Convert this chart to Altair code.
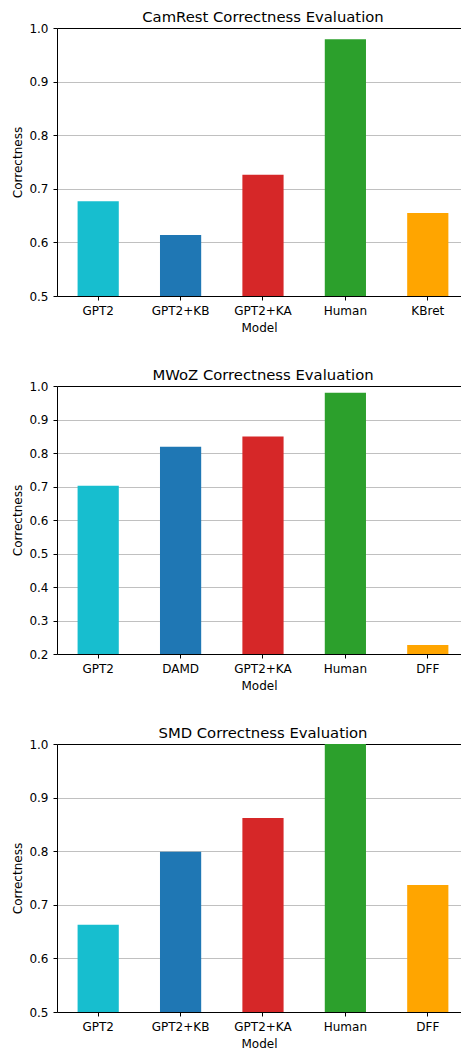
import altair as alt
import pandas as pd

# ---- data ----
panel_titles = [
    "CamRest Correctness Evaluation",
    "MWoZ Correctness Evaluation",
    "SMD Correctness Evaluation",
]
camrest_models = ["GPT2", "GPT2+KB", "GPT2+KA", "Human", "KBret"]
camrest_values = [0.677, 0.614, 0.726, 0.979, 0.655]

mwoz_models = ["GPT2", "DAMD", "GPT2+KA", "Human", "DFF"]
mwoz_values = [0.702, 0.819, 0.849, 0.980, 0.227]

smd_models = ["GPT2", "GPT2+KB", "GPT2+KA", "Human", "DFF"]
smd_values = [0.663, 0.799, 0.862, 1.000, 0.737]

bar_colors = ["#17becf", "#1f77b4", "#d62728", "#2ca02c", "#ffa500"]

camrest_ticks = [0.5, 0.6, 0.7, 0.8, 0.9, 1.0]
mwoz_ticks = [0.2, 0.3, 0.4, 0.5, 0.6, 0.7, 0.8, 0.9, 1.0]
smd_ticks = [0.5, 0.6, 0.7, 0.8, 0.9, 1.0]

FONT = "DejaVu Sans"
TOP_TEST = "datum.value >= 0.999"


def panel(title, models, values, ticks):
    df = pd.DataFrame({"Model": models, "Correctness": values, "Color": bar_colors})
    return (
        alt.Chart(df)
        .mark_bar(clip=True)
        .encode(
            x=alt.X(
                "Model:N",
                sort=models,
                scale=alt.Scale(paddingInner=0.5, paddingOuter=0.2015, align=0.62),
                axis=alt.Axis(title="Model", labelAngle=0, grid=False),
            ),
            y=alt.Y(
                "Correctness:Q",
                scale=alt.Scale(domain=[ticks[0], ticks[-1]], zero=False, nice=False),
                axis=alt.Axis(
                    title="Correctness",
                    values=ticks,
                    format=".1f",
                    grid=True,
                    gridColor={"condition": {"test": TOP_TEST, "value": "black"}, "value": "#b0b0b0"},
                    gridOpacity={"condition": {"test": TOP_TEST, "value": 1}, "value": 0.8},
                ),
            ),
            color=alt.Color("Color:N", scale=None, legend=None),
        )
        .properties(width=404, height=268, title=alt.TitleParams(title, dx=4))
    )


chart = (
    alt.vconcat(
        panel(panel_titles[0], camrest_models, camrest_values, camrest_ticks),
        panel(panel_titles[1], mwoz_models, mwoz_values, mwoz_ticks),
        panel(panel_titles[2], smd_models, smd_values, smd_ticks),
        spacing=35,
    )
    .resolve_scale(x="independent", y="independent")
    .properties(padding={"left": 3, "top": 2, "right": 0, "bottom": 0})
    .configure_view(stroke=None)
    .configure_axis(
        labelFont=FONT,
        labelFontSize=12,
        labelColor="black",
        titleFont=FONT,
        titleFontSize=12,
        titleFontWeight="normal",
        titleColor="black",
        domainColor="black",
        domainWidth=1,
        tickColor="black",
        tickSize=4,
        labelPadding=5,
        titlePadding=6,
        gridWidth=1,
        zindex=1,
    )
    .configure_axisY(titlePadding=4)
    .configure_title(
        font=FONT,
        fontSize=14.8,
        fontWeight="normal",
        color="black",
        anchor="middle",
        frame="group",
        offset=-3,
    )
)

chart.save("out.html", embed_options={"renderer": "svg", "actions": False})
